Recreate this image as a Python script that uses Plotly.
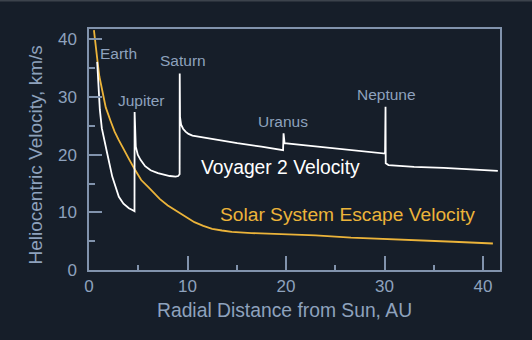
import plotly.graph_objects as go

# Voyager 2 heliocentric velocity (AU, km/s)
voyager_x = [0.83, 0.95, 1.1, 1.3, 1.6, 1.85, 2.36, 2.7, 3.03, 3.5, 4.05, 4.4, 4.62,
             4.63, 4.66, 4.75, 4.95, 5.23, 5.7, 6.25, 7.0, 7.6, 8.2, 8.8, 9.05, 9.2,
             9.21, 9.24, 9.35, 9.55, 9.8, 10.1, 10.5, 11.5, 13.0, 15.05, 17.5, 19.7,
             19.75, 19.78, 19.85, 22.0, 25.0, 27.5, 30.05,
             30.1, 30.12, 30.4, 33.0, 36.0, 39.0, 41.5]
voyager_y = [36.1, 32.0, 27.8, 24.6, 22.0, 20.2, 16.2, 14.2, 12.7, 11.5, 10.7, 10.4, 10.2,
             27.4, 23.3, 21.4, 20.0, 19.1, 18.0, 17.3, 16.8, 16.5, 16.3, 16.2, 16.3, 16.6,
             34.1, 26.5, 25.2, 24.5, 24.0, 23.6, 23.3, 23.0, 22.6, 22.0, 21.4, 20.8,
             23.7, 22.4, 22.0, 21.6, 21.1, 20.6, 20.2,
             28.3, 18.5, 18.2, 17.9, 17.7, 17.45, 17.2]

# Solar system escape velocity (AU, km/s)
escape_x = [0.5, 0.65, 0.83, 1.05, 1.34, 1.7, 2.2, 2.6, 3.0, 3.6, 4.2, 4.7, 5.3, 6.0, 6.4,
            7.2, 8.0, 9.0, 9.8, 10.7, 11.6, 12.5, 13.5, 14.5, 16.5, 20.0, 23.0, 26.6,
            30.0, 33.0, 37.0, 41.0]
escape_y = [41.6, 39.0, 36.7, 33.6, 30.9, 28.2, 25.8, 24.0, 22.6, 20.6, 18.8, 17.3, 15.6,
            14.4, 13.7, 12.3, 11.2, 10.1, 9.2, 8.3, 7.65, 7.15, 6.85, 6.6, 6.4, 6.2, 6.0,
            5.6, 5.4, 5.2, 4.9, 4.6]

planet_names = ["Earth", "Jupiter", "Saturn", "Uranus", "Neptune"]
planet_label_x = [3.0, 5.3, 9.5, 19.7, 30.2]
planet_label_y = [37.6, 29.4, 36.3, 25.8, 30.5]

x_ticks = [0, 10, 20, 30, 40]
y_ticks = [0, 10, 20, 30, 40]

BG = "#161e29"
AXIS = "#8193ac"
LABEL = "#8ea2bd"
GOLD = "#ecb43a"
FONT = "Liberation Sans, Arial, sans-serif"

W, H = 532, 340
L, R, T, B = 89, 32, 29, 70
pw, ph = W - L - R, H - T - B

def px_x(p):
    return (p - L) / pw

def px_y(p):
    return (H - B - p) / ph

fig = go.Figure()
fig.add_trace(go.Scatter(x=escape_x, y=escape_y, mode="lines",
                         line=dict(color=GOLD, width=1.8), hoverinfo="skip"))
fig.add_trace(go.Scatter(x=voyager_x, y=voyager_y, mode="lines",
                         line=dict(color="#ffffff", width=1.8), hoverinfo="skip"))

for name, lx, ly in zip(planet_names, planet_label_x, planet_label_y):
    fig.add_annotation(x=lx, y=ly, text=name, showarrow=False, xref="x", yref="y",
                       xanchor="center", yanchor="middle",
                       font=dict(family=FONT, size=15.5, color=LABEL))

fig.add_annotation(x=19.4, y=17.8, text="Voyager 2 Velocity", showarrow=False,
                   xanchor="center", yanchor="middle",
                   font=dict(family=FONT, size=19.3, color="#ffffff"))
fig.add_annotation(x=26.2, y=9.55, text="Solar System Escape Velocity", showarrow=False,
                   xanchor="center", yanchor="middle",
                   font=dict(family=FONT, size=19.2, color=GOLD))

# axis titles
fig.add_annotation(x=px_x(34.5), y=px_y(155), xref="paper", yref="paper",
                   text="Heliocentric Velocity, km/s", showarrow=False, textangle=-90,
                   xanchor="center", yanchor="middle",
                   font=dict(family=FONT, size=19, color=LABEL))
fig.add_annotation(x=px_x(284.5), y=px_y(310.5), xref="paper", yref="paper",
                   text="Radial Distance from Sun, AU", showarrow=False,
                   xanchor="center", yanchor="middle",
                   font=dict(family=FONT, size=19.3, color=LABEL))

fig.update_layout(
    width=W, height=H,
    margin=dict(l=L, r=R, t=T, b=B),
    paper_bgcolor=BG, plot_bgcolor=BG,
    showlegend=False,
    font=dict(family=FONT, color=LABEL),
)
fig.update_xaxes(
    range=[0, 41.72], tickvals=x_ticks, ticktext=[str(v) for v in x_ticks],
    ticks="inside", ticklen=14, tickwidth=1.5, tickcolor=AXIS,
    minor=dict(dtick=5, tick0=0, ticks="inside", ticklen=5, tickwidth=1.5, tickcolor=AXIS),
    showline=True, linecolor=AXIS, linewidth=1.5, mirror=True,
    showgrid=False, zeroline=False,
    tickfont=dict(family=FONT, size=17, color=LABEL), ticklabelstandoff=0,
)
fig.update_yaxes(
    range=[0, 41.8], tickvals=y_ticks, ticktext=[str(v) for v in y_ticks],
    ticks="inside", ticklen=13, tickwidth=1.5, tickcolor=AXIS,
    minor=dict(dtick=5, tick0=0, ticks="inside", ticklen=6, tickwidth=1.5, tickcolor=AXIS),
    showline=True, linecolor=AXIS, linewidth=1.5, mirror=True,
    showgrid=False, zeroline=False,
    tickfont=dict(family=FONT, size=17, color=LABEL), ticklabelstandoff=7,
)
fig.add_shape(type="line", xref="paper", yref="paper", x0=px_x(0), x1=px_x(W),
              y0=px_y(0.5), y1=px_y(0.5), line=dict(color="#3c434c", width=2))
fig.write_html("out.html")
